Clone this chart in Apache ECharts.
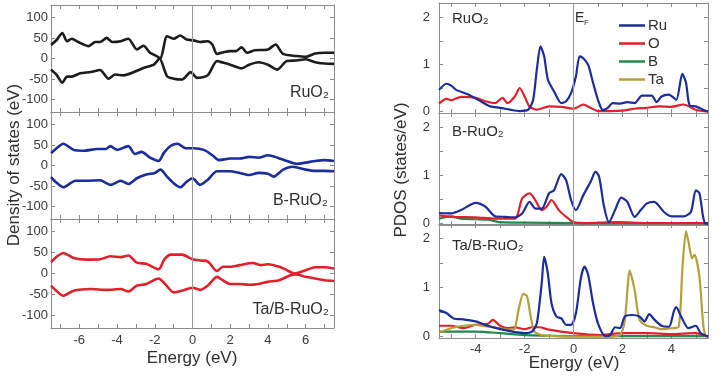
<!DOCTYPE html>
<html>
<head>
<meta charset="utf-8">
<script src="https://cdn.jsdelivr.net/npm/echarts@6/dist/echarts.min.js"></script>
<style>
  html, body { margin: 0; padding: 0; background: #fff; }
  #chart { width: 724px; height: 377px; }
</style>
</head>
<body>
<div id="chart"></div>
<script>
// left panel: total DOS, [energy, value]
const ruo2Up = [[-7.5,33],[-7.2,45],[-6.9,62],[-6.65,42],[-6.4,48],[-6.05,40],[-5.5,30],[-5.15,40],[-4.9,40],[-4.55,50],[-4.25,40],[-3.8,42],[-3.4,48],[-2.95,22],[-2.6,31],[-2.25,14],[-1.9,6],[-1.7,0],[-1.35,54],[-1.0,48],[-0.65,56],[-0.3,46],[0.05,44],[0.4,40],[0.8,42],[1.05,34],[1.3,11],[1.7,16],[2.0,18],[2.3,18],[2.6,27],[2.9,14],[3.3,20],[4.0,22],[4.4,34],[4.8,11],[5.5,6],[6.0,4],[6.5,12],[7.0,14],[7.5,14]];
const ruo2Dn = [[-7.5,-27],[-7.2,-40],[-6.9,-59],[-6.65,-44],[-6.4,-44],[-5.95,-36],[-5.4,-33],[-4.9,-28],[-4.45,-49],[-4.1,-39],[-3.65,-41],[-3.1,-33],[-2.6,-23],[-2.05,-15],[-1.75,0],[-1.35,-43],[-1.0,-49],[-0.55,-51],[-0.1,-33],[0.25,-47],[0.8,-41],[1.3,-6],[1.6,-10],[2.0,-15],[2.6,-24],[3.0,-15],[3.5,-9],[4.0,-15],[4.5,-27],[5.0,-6],[5.5,-5],[6.0,-2],[6.5,-9],[7.0,-12],[7.5,-13]];
const bRuo2Up = [[-7.5,30],[-7.2,42],[-6.85,53],[-6.3,38],[-5.75,36],[-5.05,40],[-4.6,40],[-4.35,47],[-4.0,38],[-3.4,47],[-3.05,28],[-2.7,33],[-2.25,19],[-1.8,11],[-1.5,32],[-1.15,48],[-0.8,53],[-0.35,42],[0.05,42],[0.6,38],[1.05,25],[1.4,13],[2.0,17],[2.5,17],[3.0,21],[3.5,19],[4.0,25],[4.5,19],[5.0,11],[5.5,4],[6.0,7],[6.5,11],[7.0,13],[7.5,11]];
const bRuo2Dn = [[-7.5,-28],[-7.2,-42],[-6.85,-53],[-6.2,-37],[-5.6,-37],[-4.9,-36],[-4.35,-47],[-3.8,-37],[-3.4,-45],[-2.95,-31],[-2.45,-22],[-2.0,-18],[-1.7,-10],[-1.35,-27],[-1.0,-43],[-0.65,-53],[-0.3,-39],[0.0,-31],[0.4,-47],[0.8,-35],[1.3,-14],[2.0,-14],[2.5,-18],[3.0,-23],[3.5,-18],[4.0,-20],[4.3,-27],[4.8,-10],[5.3,-3],[6.0,-10],[6.5,-13],[7.0,-13],[7.5,-14]];
const taRuo2Up = [[-7.5,27],[-7.2,40],[-6.85,49],[-6.3,37],[-5.6,33],[-4.9,34],[-4.35,41],[-3.8,39],[-3.4,43],[-2.95,26],[-2.45,23],[-1.8,10],[-1.5,33],[-1.15,45],[-0.55,45],[0.0,34],[0.4,31],[0.8,29],[1.3,6],[1.6,16],[2.0,16],[2.5,20],[3.2,25],[3.6,20],[4.0,22],[4.6,16],[5.0,8],[5.4,0],[6.0,8],[6.5,15],[7.0,15],[7.5,12]];
const taRuo2Dn = [[-7.5,-29],[-7.2,-42],[-6.85,-53],[-6.3,-41],[-5.4,-37],[-4.55,-39],[-3.8,-37],[-3.4,-43],[-2.95,-29],[-2.45,-25],[-1.8,-12],[-1.45,-25],[-1.0,-45],[-0.55,-41],[0.0,-34],[0.4,-39],[0.8,-29],[1.3,-8],[1.6,-16],[2.0,-25],[2.5,-25],[3.0,-27],[3.5,-25],[4.0,-20],[4.6,-16],[5.2,-4],[5.5,-2],[6.0,-8],[6.5,-12],[7.0,-16],[7.5,-18]];

// right panel: PDOS, [energy, states/eV]
const ruo2Ru = [[-5.5,0.46],[-5.2,0.59],[-5.0,0.55],[-4.8,0.46],[-4.3,0.36],[-3.8,0.22],[-3.4,0.11],[-3.0,0.08],[-2.6,0.04],[-2.2,0.01],[-1.85,0.04],[-1.65,0.25],[-1.5,0.89],[-1.35,1.38],[-1.2,1.17],[-1.05,0.68],[-0.8,0.43],[-0.5,0.18],[-0.3,0.22],[-0.1,0.39],[0.1,0.75],[0.25,1.17],[0.4,1.13],[0.6,0.99],[0.8,0.61],[1.0,0.25],[1.2,0.03],[1.4,0.08],[1.6,0.18],[1.9,0.17],[2.2,0.2],[2.5,0.18],[2.8,0.34],[3.2,0.34],[3.4,0.2],[3.6,0.32],[3.9,0.36],[4.2,0.25],[4.45,0.8],[4.6,0.61],[4.75,0.13],[5.0,0.11],[5.3,0.04],[5.5,0.0]];
const ruo2O = [[-5.5,0.17],[-5.2,0.27],[-5.0,0.24],[-4.6,0.31],[-4.0,0.29],[-3.6,0.22],[-3.2,0.18],[-2.9,0.29],[-2.7,0.18],[-2.4,0.32],[-2.2,0.5],[-2.0,0.32],[-1.8,0.11],[-1.5,0.04],[-1.0,0.11],[-0.5,0.1],[0.0,0.06],[0.4,0.15],[0.7,0.08],[1.0,0.01],[1.5,0.01],[2.0,0.02],[2.5,0.06],[3.0,0.08],[3.5,0.11],[4.0,0.1],[4.5,0.15],[5.0,0.04],[5.5,0.0]];
const bRu = [[-5.5,0.22],[-5.0,0.21],[-4.6,0.28],[-4.0,0.43],[-3.6,0.35],[-3.2,0.15],[-2.8,0.14],[-2.4,0.13],[-2.1,0.21],[-1.8,0.45],[-1.55,0.31],[-1.3,0.31],[-1.0,0.63],[-0.8,0.69],[-0.5,1.03],[-0.3,0.9],[-0.1,0.49],[0.1,0.28],[0.4,0.59],[0.7,0.87],[0.9,1.08],[1.05,0.97],[1.25,0.35],[1.45,0.03],[1.7,0.28],[1.95,0.54],[2.2,0.45],[2.5,0.14],[2.75,0.28],[3.0,0.42],[3.3,0.45],[3.7,0.24],[4.0,0.15],[4.5,0.15],[4.8,0.24],[5.0,0.69],[5.15,0.63],[5.3,0.14],[5.4,0.0],[5.5,0.0]];
const bO = [[-5.5,0.17],[-5.0,0.14],[-4.0,0.13],[-3.2,0.1],[-2.4,0.1],[-2.1,0.52],[-1.8,0.63],[-1.6,0.52],[-1.3,0.28],[-1.1,0.35],[-0.9,0.49],[-0.6,0.28],[-0.3,0.14],[0.0,0.03],[0.5,0.01],[1.8,0.03],[3.0,0.01],[5.5,0.01]];
const bB = [[-5.5,0.1],[-5.0,0.15],[-4.6,0.1],[-4.0,0.09],[-3.5,0.08],[-3.0,0.03],[-2.0,0.02],[0.0,0.01],[5.5,0.01]];
const taRu = [[-5.5,0.54],[-5.2,0.48],[-4.9,0.37],[-4.5,0.35],[-4.0,0.31],[-3.5,0.22],[-3.0,0.15],[-2.5,0.1],[-2.0,0.07],[-1.7,0.1],[-1.5,0.27],[-1.3,1.09],[-1.2,1.63],[-1.05,1.29],[-0.9,0.68],[-0.7,0.41],[-0.5,0.37],[-0.3,0.24],[-0.1,0.24],[0.1,0.48],[0.3,1.19],[0.45,1.43],[0.6,1.26],[0.8,0.68],[1.0,0.27],[1.3,0.01],[1.5,0.03],[1.7,0.19],[1.9,0.17],[2.1,0.41],[2.4,0.44],[2.7,0.41],[2.9,0.31],[3.1,0.46],[3.3,0.35],[3.6,0.22],[3.9,0.2],[4.1,0.51],[4.2,0.6],[4.4,0.41],[4.7,0.17],[5.0,0.22],[5.2,0.07],[5.5,0.0]];
const taO = [[-5.5,0.22],[-5.0,0.22],[-4.5,0.17],[-4.0,0.24],[-3.5,0.26],[-3.3,0.34],[-3.0,0.22],[-2.7,0.17],[-2.4,0.19],[-2.0,0.15],[-1.7,0.19],[-1.4,0.19],[-1.0,0.14],[0.0,0.07],[1.0,0.03],[2.0,0.07],[3.0,0.07],[4.0,0.05],[5.0,0.07],[5.5,0.0]];
const taB = [[-5.5,0.1],[-4.0,0.1],[-3.0,0.07],[-2.0,0.03],[0.0,0.01],[5.5,0.01]];
const taTa = [[-5.5,0.08],[-5.0,0.17],[-4.5,0.22],[-4.0,0.24],[-3.5,0.2],[-3.0,0.17],[-2.6,0.14],[-2.4,0.17],[-2.25,0.54],[-2.05,0.87],[-1.9,0.82],[-1.75,0.41],[-1.6,0.1],[-1.3,0.03],[0.0,0.0],[1.5,0.0],[1.9,0.03],[2.1,0.34],[2.3,1.35],[2.5,0.95],[2.7,0.34],[3.0,0.22],[3.3,0.19],[3.6,0.15],[4.0,0.17],[4.3,0.2],[4.45,1.36],[4.6,2.15],[4.7,1.94],[4.85,1.6],[4.95,1.67],[5.15,1.22],[5.3,0.27],[5.4,0.01],[5.5,0.0]];

const leftXTicks = [-7, -6, -5, -4, -3, -2, -1, 0, 1, 2, 3, 4, 5, 6, 7];
const leftXLabels = [-6, -4, -2, 0, 2, 4, 6];
const leftYLabels = [-100, -50, 0, 50, 100];
const rightXTicks = [-5, -4, -3, -2, -1, 0, 1, 2, 3, 4, 5];
const rightXLabels = [-4, -2, 0, 2, 4];
const rightYTicks = [0, 0.5, 1, 1.5, 2];
const rightYLabels = [0, 1, 2];

const panelNames = ['RuO₂', 'B-RuO₂', 'Ta/B-RuO₂'];
const legendNames = ['Ru', 'O', 'B', 'Ta'];
const colors = { Ru: '#1b2c9e', O: '#e2202c', B: '#1e8a4c', Ta: '#b3a03a' };

const FONT = 'Liberation Sans, Arial, sans-serif';
const AX = '#8c8c8c';
const TXT = '#3a3a3a';

const grids = [
  { left: 51, width: 283, top: 5, height: 107 },
  { left: 51, width: 283, top: 112, height: 107 },
  { left: 51, width: 283, top: 219, height: 109 },
  { left: 439, width: 269, top: 3, height: 110 },
  { left: 439, width: 269, top: 113, height: 112 },
  { left: 439, width: 269, top: 224, height: 114 }
];

const xAxes = [];
const yAxes = [];
grids.forEach((g, i) => {
  const isLeft = i < 3;
  const isBottom = i === 2 || i === 5;
  const xmin = isLeft ? -7.5 : -5.5, xmax = isLeft ? 7.5 : 5.5;
  const ymin = isLeft ? -130 : -0.03, ymax = isLeft ? 130 : 2.3;
  const xt = isLeft ? leftXTicks : rightXTicks;
  const yt = isLeft ? leftYLabels : rightYTicks;
  const base = {
    type: 'value', gridIndex: i, splitLine: { show: false },
    axisLine: { show: true, onZero: false, lineStyle: { color: AX, width: 1 } }
  };
  ['bottom', 'top'].forEach(pos => {
    xAxes.push(Object.assign({}, base, {
      position: pos, min: xmin, max: xmax,
      axisTick: { show: true, inside: true, length: 4, lineStyle: { color: AX }, customValues: xt },
      axisLabel: {
        show: pos === 'bottom' && isBottom, customValues: isLeft ? leftXLabels : rightXLabels,
        color: TXT, fontFamily: FONT, fontSize: 13, margin: isLeft ? 6 : 5
      }
    }));
  });
  ['left', 'right'].forEach(pos => {
    yAxes.push(Object.assign({}, base, {
      position: pos, min: ymin, max: ymax,
      axisTick: { show: true, inside: true, length: 4, lineStyle: { color: AX }, customValues: yt },
      axisLabel: {
        show: pos === 'left', customValues: isLeft ? leftYLabels : rightYLabels,
        color: TXT, fontFamily: FONT, fontSize: 13, margin: isLeft ? 3 : 9
      }
    }));
  });
});

const zeroLine = {
  silent: true, symbol: 'none', label: { show: false },
  lineStyle: { color: '#9a9a9a', width: 1, type: 'solid' },
  data: [{ xAxis: 0 }]
};

function line(name, data, idx, color, width, mark) {
  return {
    name: name, type: 'line', data: data, xAxisIndex: idx * 2, yAxisIndex: idx * 2,
    showSymbol: false, symbol: 'none', smooth: 0.25, animation: false,
    lineStyle: { color: color, width: width }, itemStyle: { color: color },
    markLine: mark ? zeroLine : undefined, z: 3
  };
}

const series = [
  line('up0', ruo2Up, 0, '#1c1c1c', 2.6, true),
  line('dn0', ruo2Dn, 0, '#1c1c1c', 2.6, false),
  line('up1', bRuo2Up, 1, '#1b2c9e', 2.6, true),
  line('dn1', bRuo2Dn, 1, '#1b2c9e', 2.6, false),
  line('up2', taRuo2Up, 2, '#e2202c', 2.6, true),
  line('dn2', taRuo2Dn, 2, '#e2202c', 2.6, false),
  line('O', ruo2O, 3, colors.O, 2.2, true),
  line('Ru', ruo2Ru, 3, colors.Ru, 2.2, false),
  line('B', bB, 4, colors.B, 2.2, true),
  line('O', bO, 4, colors.O, 2.2, false),
  line('Ru', bRu, 4, colors.Ru, 2.2, false),
  line('B', taB, 5, colors.B, 2.2, true),
  line('O', taO, 5, colors.O, 2.2, false),
  line('Ta', taTa, 5, colors.Ta, 2.2, false),
  line('Ru', taRu, 5, colors.Ru, 2.2, false)
];

const txt = (x, y, text, size, align, extra) => Object.assign({
  type: 'text', x: x, y: y, silent: true,
  style: { text: text, fontSize: size, fontFamily: FONT, fill: '#2e2e2e', align: align, verticalAlign: 'middle' }
}, extra || {});

const graphics = [
  txt(329, 93, panelNames[0], 16, 'right'),
  txt(328, 201, panelNames[1], 16, 'right'),
  txt(329, 310, panelNames[2], 16, 'right'),
  txt(452, 19, panelNames[0], 15, 'left'),
  txt(452, 132, panelNames[1], 15, 'left'),
  txt(452, 246, panelNames[2], 15, 'left'),
  txt(575, 18, 'E', 14, 'left'),
  txt(584, 23, 'F', 8, 'left'),
  txt(192, 358, 'Energy (eV)', 17, 'center'),
  txt(574, 363, 'Energy (eV)', 17, 'center'),
  txt(14, 165, 'Density of states (eV)', 17, 'center', { rotation: Math.PI / 2 }),
  txt(401, 170, 'PDOS (states/eV)', 17, 'center', { rotation: Math.PI / 2 })
];

const chart = echarts.init(document.getElementById('chart'), null, { renderer: 'canvas' });
chart.setOption({
  animation: false,
  backgroundColor: '#fff',
  grid: grids,
  xAxis: xAxes,
  yAxis: yAxes,
  legend: {
    data: legendNames, orient: 'vertical', left: 614, top: 13,
    itemWidth: 26, itemHeight: 14, itemGap: 3, icon: 'path://M0,6 L26,6 L26,8.5 L0,8.5 Z',
    textStyle: { fontFamily: FONT, fontSize: 15, color: '#2e2e2e', padding: [0, 0, 0, -2] },
    selectedMode: false
  },
  series: series,
  graphic: graphics
});
</script>
</body>
</html>
